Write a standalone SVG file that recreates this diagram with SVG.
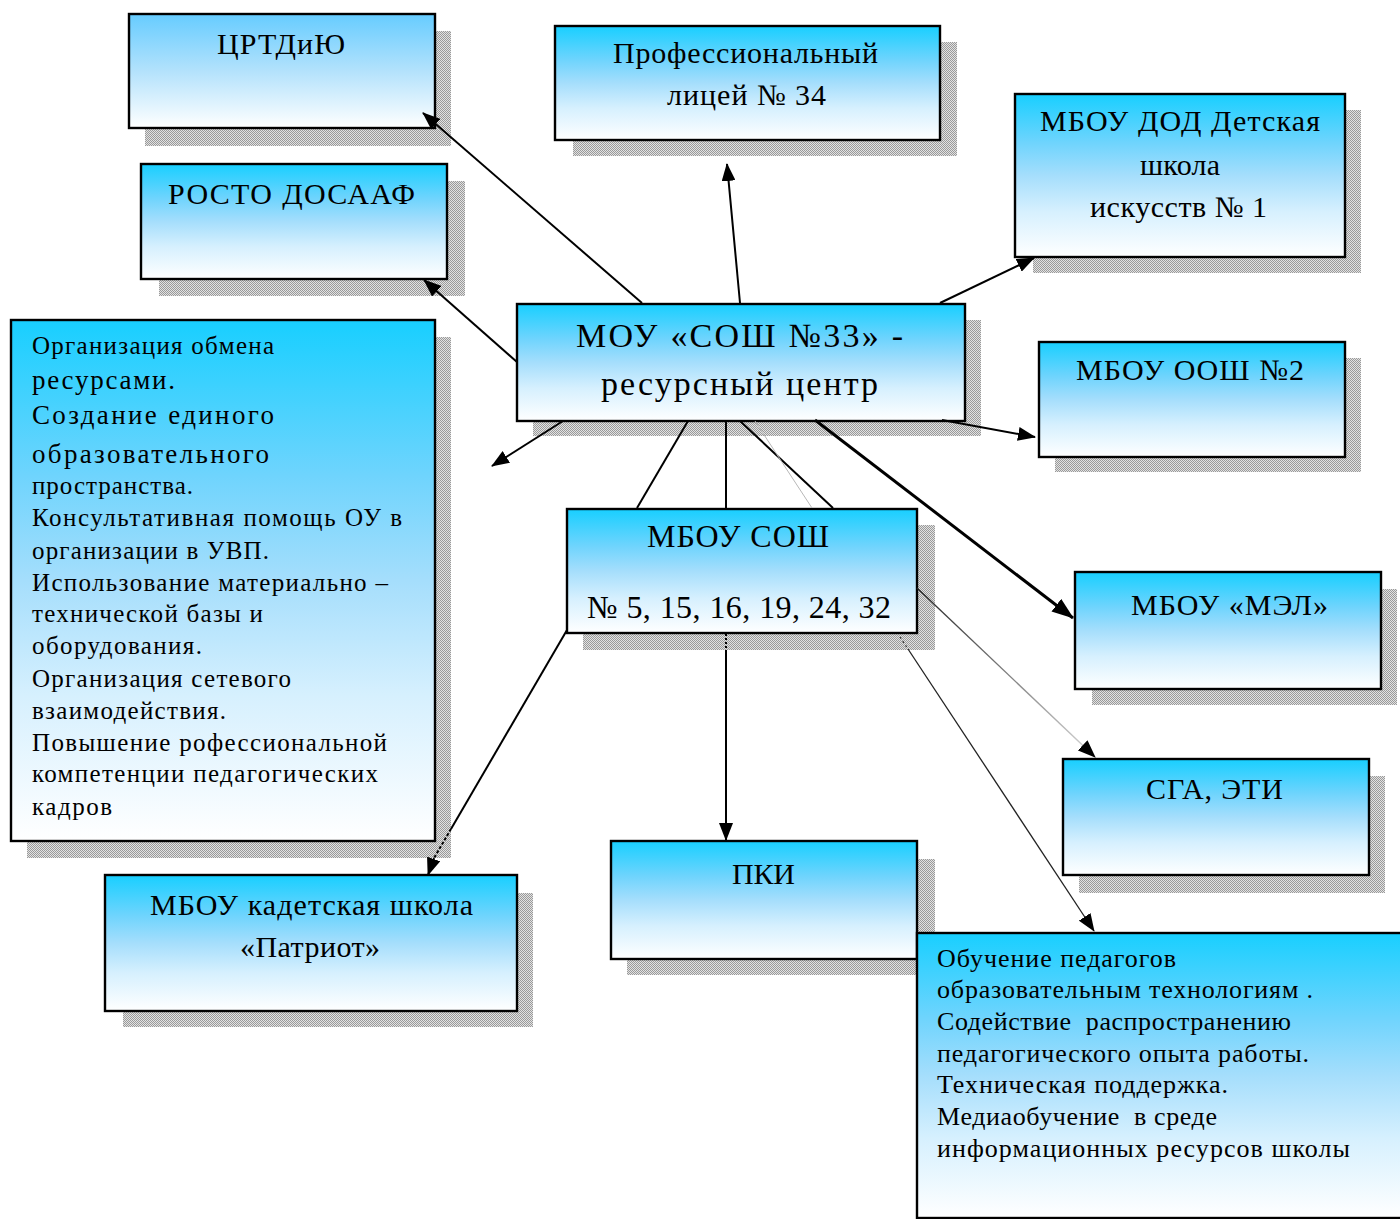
<svg xmlns="http://www.w3.org/2000/svg" width="1400" height="1219" viewBox="0 0 1400 1219">
<defs>
<style>
.box{stroke:#000;stroke-width:2.4;fill:url(#g1)}
.shd{fill:url(#chk)}
.t{font-family:"Liberation Serif","Times New Roman",serif;fill:#000}
.ti{font-size:30px;text-anchor:middle}
.mn{font-size:34px;text-anchor:middle}
.bd{font-size:25px}
.bd2{font-size:27px}
.br{font-size:26px}
.ln{stroke:#000;stroke-width:2;fill:none}
</style>
<linearGradient id="g1" x1="0" y1="0" x2="0" y2="1">
<stop offset="0" stop-color="#18cfff"/>
<stop offset="0.3" stop-color="#6fd4fd"/>
<stop offset="0.5" stop-color="#a5defc"/>
<stop offset="0.72" stop-color="#d6f0fe"/>
<stop offset="1" stop-color="#ffffff"/>
</linearGradient>
<linearGradient id="g2" x1="0" y1="0" x2="0" y2="1">
<stop offset="0" stop-color="#66ccff"/>
<stop offset="0.5" stop-color="#b3e2fc"/>
<stop offset="1" stop-color="#ffffff"/>
</linearGradient>
<linearGradient id="fade" gradientUnits="userSpaceOnUse" x1="917" y1="588" x2="1095" y2="757">
<stop offset="0" stop-color="#222"/>
<stop offset="1" stop-color="#d8d8d8"/>
</linearGradient>
<pattern id="chk" width="2" height="2" patternUnits="userSpaceOnUse">
<rect width="2" height="2" fill="#e2e2e2"/>
<rect width="1" height="1" fill="#9a9a9a"/>
<rect x="1" y="1" width="1" height="1" fill="#9a9a9a"/>
</pattern>
<marker id="arr" viewBox="0 0 18 14" refX="17" refY="7" markerWidth="18" markerHeight="14" orient="auto" markerUnits="userSpaceOnUse">
<path d="M0,0 L18,7 L0,14 z" fill="#000"/>
</marker>
<marker id="arrB" viewBox="0 0 22 16" refX="21" refY="8" markerWidth="22" markerHeight="16" orient="auto" markerUnits="userSpaceOnUse">
<path d="M0,0 L22,8 L0,16 z" fill="#000"/>
</marker>
</defs>
<rect width="1400" height="1219" fill="#fff"/>

<g id="shadows">
<rect class="shd" x="145" y="31" width="306" height="115"/>
<rect class="shd" x="159" y="181" width="306" height="115"/>
<rect class="shd" x="573" y="42" width="384" height="114"/>
<rect class="shd" x="1033" y="110" width="328" height="163"/>
<rect class="shd" x="533" y="320" width="448" height="116"/>
<rect class="shd" x="1055" y="358" width="306" height="114"/>
<rect class="shd" x="27" y="337" width="424" height="521"/>
<rect class="shd" x="583" y="525" width="352" height="125"/>
<rect class="shd" x="1092" y="589" width="305" height="116"/>
<rect class="shd" x="1079" y="776" width="306" height="117"/>
<rect class="shd" x="627" y="859" width="308" height="116"/>
<rect class="shd" x="123" y="893" width="410" height="134"/>
</g>

<g id="node-crtdiyu">
<rect class="box" x="129" y="14" width="306" height="114" style="fill:url(#g2)"/>
<text class="t ti" x="281" y="54" textLength="128" lengthAdjust="spacing">ЦРТДиЮ</text>
</g>
<g id="node-rosto">
<rect class="box" x="141" y="164" width="306" height="115"/>
<text class="t ti" x="291.5" y="204" textLength="247" lengthAdjust="spacing">РОСТО ДОСААФ</text>
</g>
<g id="node-licey34">
<rect class="box" x="555" y="26" width="385" height="114"/>
<text class="t ti" x="745.5" y="63" textLength="265" lengthAdjust="spacing">Профессиональный</text>
<text class="t ti" x="746.5" y="105" textLength="159" lengthAdjust="spacing">лицей № 34</text>
</g>
<g id="node-dshi1">
<rect class="box" x="1015" y="94" width="330" height="163"/>
<text class="t ti" x="1180" y="131" textLength="280" lengthAdjust="spacing">МБОУ ДОД Детская</text>
<text class="t ti" x="1180" y="175" textLength="80" lengthAdjust="spacing">школа</text>
<text class="t ti" x="1178.5" y="217" textLength="177" lengthAdjust="spacing">искусств № 1</text>
</g>
<g id="node-center">
<rect class="box" x="517" y="304" width="448" height="117"/>
<text class="t mn" x="739.5" y="347" textLength="327" lengthAdjust="spacing">МОУ «СОШ №33» -</text>
<text class="t mn" x="739.5" y="395" textLength="277" lengthAdjust="spacing">ресурсный центр</text>
</g>
<g id="node-oosh2">
<rect class="box" x="1039" y="342" width="306" height="115"/>
<text class="t ti" x="1190" y="380" textLength="228" lengthAdjust="spacing">МБОУ ООШ №2</text>
</g>
<g id="node-functions">
<rect class="box" x="11" y="320" width="424" height="521"/>
<text class="t bd" x="32" y="354" textLength="242" lengthAdjust="spacing">Организация обмена</text>
<text class="t bd2" x="32" y="389" textLength="143" lengthAdjust="spacing">ресурсами.</text>
<text class="t bd2" x="32" y="424" textLength="242" lengthAdjust="spacing">Создание единого</text>
<text class="t bd2" x="32" y="463" textLength="237" lengthAdjust="spacing">образовательного</text>
<text class="t bd" x="32" y="494" textLength="161" lengthAdjust="spacing">пространства.</text>
<text class="t bd" x="32" y="526" textLength="370" lengthAdjust="spacing">Консультативная помощь ОУ в</text>
<text class="t bd" x="32" y="559" textLength="237" lengthAdjust="spacing">организации в УВП.</text>
<text class="t bd" x="32" y="591" textLength="356" lengthAdjust="spacing">Использование материально –</text>
<text class="t bd" x="32" y="622" textLength="231" lengthAdjust="spacing">технической базы и</text>
<text class="t bd" x="32" y="654" textLength="170" lengthAdjust="spacing">оборудования.</text>
<text class="t bd" x="32" y="687" textLength="259" lengthAdjust="spacing">Организация сетевого</text>
<text class="t bd" x="32" y="719" textLength="194" lengthAdjust="spacing">взаимодействия.</text>
<text class="t bd" x="32" y="751" textLength="355" lengthAdjust="spacing">Повышение рофессиональной</text>
<text class="t bd" x="32" y="782" textLength="346" lengthAdjust="spacing">компетенции педагогических</text>
<text class="t bd" x="32" y="815" textLength="80" lengthAdjust="spacing">кадров</text>
</g>
<g id="node-sosh">
<rect class="box" x="567" y="509" width="350" height="124"/>
<text class="t ti" x="738" y="547" style="font-size:32px" textLength="182" lengthAdjust="spacing">МБОУ СОШ</text>
<text class="t ti" x="739" y="618" style="font-size:32px" textLength="304" lengthAdjust="spacing">№ 5, 15, 16, 19, 24, 32</text>
</g>
<g id="node-mel">
<rect class="box" x="1075" y="572" width="306" height="117"/>
<text class="t ti" x="1229.5" y="615" textLength="197" lengthAdjust="spacing">МБОУ «МЭЛ»</text>
</g>
<g id="node-sga">
<rect class="box" x="1063" y="759" width="306" height="116"/>
<text class="t ti" x="1214.5" y="799" textLength="137" lengthAdjust="spacing">СГА, ЭТИ</text>
</g>
<g id="node-pki">
<rect class="box" x="611" y="841" width="306" height="118"/>
<text class="t ti" x="763.5" y="884" textLength="63" lengthAdjust="spacing">ПКИ</text>
</g>
<g id="node-patriot">
<rect class="box" x="105" y="875" width="412" height="136"/>
<text class="t ti" x="311.5" y="915" textLength="323" lengthAdjust="spacing">МБОУ кадетская школа</text>
<text class="t ti" x="310" y="957" textLength="140" lengthAdjust="spacing">«Патриот»</text>
</g>
<g id="node-training">
<rect class="box" x="917" y="933" width="500" height="285"/>
<text class="t br" x="937" y="967" textLength="239" lengthAdjust="spacing">Обучение педагогов</text>
<text class="t br" x="937" y="998" textLength="376" lengthAdjust="spacing">образовательным технологиям .</text>
<text class="t br" x="937" y="1030" textLength="354" lengthAdjust="spacing" xml:space="preserve">Содействие  распространению</text>
<text class="t br" x="937" y="1062" textLength="372" lengthAdjust="spacing">педагогического опыта работы.</text>
<text class="t br" x="937" y="1093" textLength="291" lengthAdjust="spacing">Техническая поддержка.</text>
<text class="t br" x="937" y="1125" textLength="280" lengthAdjust="spacing" xml:space="preserve">Медиаобучение  в среде</text>
<text class="t br" x="937" y="1157" textLength="413" lengthAdjust="spacing">информационных ресурсов школы</text>
</g>

<g id="connectors">
<line class="ln" x1="642" y1="303" x2="423" y2="113" marker-end="url(#arr)"/>
<line class="ln" x1="517" y1="362" x2="424" y2="280" marker-end="url(#arr)"/>
<line class="ln" x1="563" y1="421" x2="492" y2="466" marker-end="url(#arr)"/>
<line class="ln" x1="740" y1="303" x2="727" y2="164" marker-end="url(#arr)"/>
<line class="ln" x1="940" y1="303" x2="1034" y2="258" marker-end="url(#arr)"/>
<line class="ln" x1="942" y1="420" x2="1035" y2="437" marker-end="url(#arr)"/>
<line class="ln" x1="688" y1="421" x2="637" y2="508"/>
<line class="ln" x1="726" y1="421" x2="726" y2="508"/>
<line class="ln" x1="740" y1="421" x2="833" y2="508"/>
<line x1="917" y1="588" x2="1095" y2="757" stroke="url(#fade)" stroke-width="1.4" marker-end="url(#arr)"/>
<line class="ln" x1="815" y1="420" x2="1073" y2="618" style="stroke-width:3" marker-end="url(#arrB)"/>
<line x1="755" y1="421" x2="812" y2="508" stroke="#b8b8b8" stroke-width="1"/>
<line x1="900" y1="637" x2="908" y2="649" stroke="#333" stroke-width="1.2" stroke-dasharray="2,3"/>
<line x1="908" y1="649" x2="1094" y2="931" stroke="#222" stroke-width="1.3" marker-end="url(#arr)"/>
<line class="ln" x1="726" y1="634" x2="726" y2="650" stroke-dasharray="2,2"/>
<line class="ln" x1="726" y1="650" x2="726" y2="840" marker-end="url(#arr)"/>
<line class="ln" x1="567" y1="630" x2="451" y2="829"/>
<line class="ln" x1="451" y1="829" x2="434" y2="858" stroke-dasharray="3,2"/>
<line class="ln" x1="434" y1="858" x2="428" y2="875" marker-end="url(#arr)"/>
</g>
</svg>
